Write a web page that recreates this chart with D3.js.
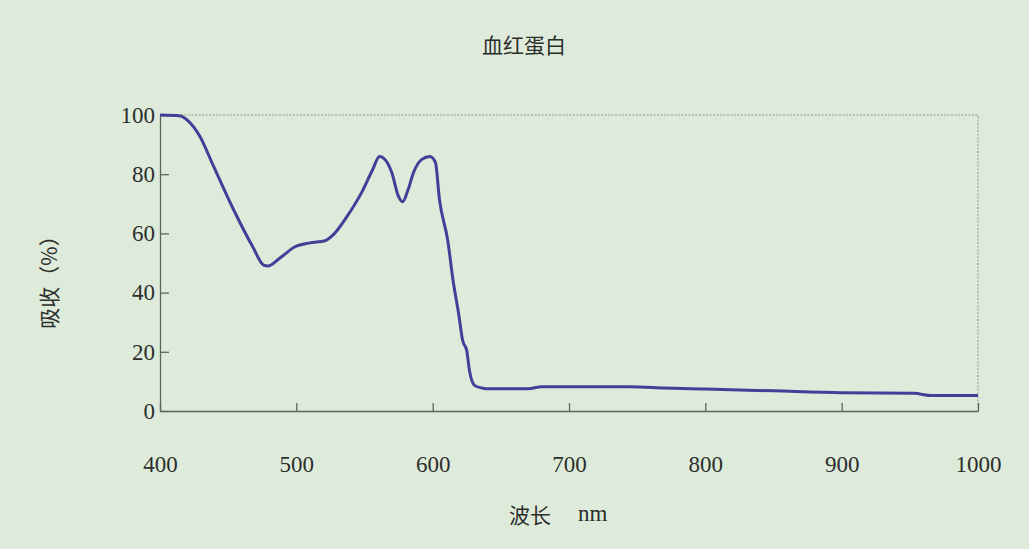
<!DOCTYPE html>
<html>
<head>
<meta charset="utf-8">
<script src="https://cdn.jsdelivr.net/npm/d3@7"></script>
<style>
  html, body { margin: 0; padding: 0; background: #deebdb; }
  svg { display: block; }
  .num { font-family: "Liberation Serif", "DejaVu Serif", serif; }
  .cjk { font-family: "Noto Sans CJK SC", sans-serif; }
</style>
</head>
<body>
<svg id="chart"></svg>
<script>
// wavelength (nm) and absorption (%)
const wavelength = [400, 415, 420, 429, 439, 454, 468, 476, 479, 488, 499, 510, 521, 527, 537, 549, 556, 561, 565, 570, 575, 578, 582, 586, 592, 598, 602, 605, 611, 615, 619, 622, 625, 627, 631, 636, 642, 670, 680, 745, 770, 800, 850, 900, 953, 966, 1000];
const absorption = [100, 99.7, 98.3, 93, 83, 68, 55.5, 49.3, 49, 51.7, 55.5, 56.8, 57.5, 59.5, 65.6, 74.8, 81.6, 86, 85, 80.6, 72.4, 70.7, 74.8, 80.6, 85, 86, 84, 71.4, 57.8, 44, 33, 23.8, 20.4, 13.6, 8.5, 7.8, 7.5, 7.5, 8.2, 8.2, 7.8, 7.4, 6.8, 6.2, 6, 5.2, 5.2];
const xTicks = [400, 500, 600, 700, 800, 900, 1000];
const yTicks = [0, 20, 40, 60, 80, 100];
const title = '血红蛋白';
const yTitle = '吸收（%）';
const xTitle = ['波长', 'nm'];

const W = 1029, H = 549;
const margin = { top: 115, right: 51, bottom: 138, left: 160 };
const width = W - margin.left - margin.right;
const height = H - margin.top - margin.bottom;

const svg = d3.select('#chart').attr('width', W).attr('height', H);
svg.append('rect').attr('width', W).attr('height', H).attr('fill', '#deebdb');

const g = svg.append('g').attr('transform', `translate(${margin.left},${margin.top})`);

const x = d3.scaleLinear().domain([400, 1000]).range([0, width]);
const y = d3.scaleLinear().domain([0, 100]).range([height, 0]);

// dotted frame on top and right
g.append('path')
    .attr('d', `M0,0H${width}V${height}`)
    .attr('fill', 'none')
    .attr('stroke', '#8e958c')
    .attr('stroke-width', 1)
    .attr('stroke-dasharray', '2,1.5');

const xAxis = d3.axisBottom(x).tickValues(xTicks).tickFormat(d3.format('d'))
    .tickSizeInner(-8).tickSizeOuter(0).tickPadding(45);
const yAxis = d3.axisLeft(y).tickValues(yTicks).tickFormat(d3.format('d'))
    .tickSizeInner(-9).tickSizeOuter(0).tickPadding(5);

const gx = g.append('g').attr('transform', `translate(0,${height})`).call(xAxis);
const gy = g.append('g').call(yAxis);

[gx, gy].forEach(a => {
    a.selectAll('path, line').attr('stroke', '#5f645d').attr('stroke-width', 1.3);
    a.selectAll('text')
        .attr('class', 'num')
        .attr('font-size', 23)
        .attr('fill', '#2c2e2b');
});

const line = d3.line()
    .x((d, i) => x(wavelength[i]))
    .y(d => y(d))
    .curve(d3.curveMonotoneX);

g.append('path')
    .datum(absorption)
    .attr('d', line)
    .attr('fill', 'none')
    .attr('stroke', '#463d98')
    .attr('stroke-width', 3)
    .attr('stroke-linejoin', 'round');

svg.append('text')
    .attr('class', 'cjk')
    .attr('x', 524).attr('y', 53)
    .attr('text-anchor', 'middle')
    .attr('font-size', 21)
    .attr('fill', '#2c2e2b')
    .text(title);

svg.append('text')
    .attr('class', 'cjk')
    .attr('transform', 'translate(57,277) rotate(-90)')
    .attr('text-anchor', 'middle')
    .attr('font-size', 21)
    .attr('fill', '#2c2e2b')
    .text(yTitle);

svg.append('text')
    .attr('class', 'cjk')
    .attr('x', 551).attr('y', 523)
    .attr('text-anchor', 'end')
    .attr('font-size', 21)
    .attr('fill', '#2c2e2b')
    .text(xTitle[0]);

svg.append('text')
    .attr('class', 'num')
    .attr('x', 578).attr('y', 521)
    .attr('font-size', 23)
    .attr('fill', '#2c2e2b')
    .text(xTitle[1]);
</script>
</body>
</html>
